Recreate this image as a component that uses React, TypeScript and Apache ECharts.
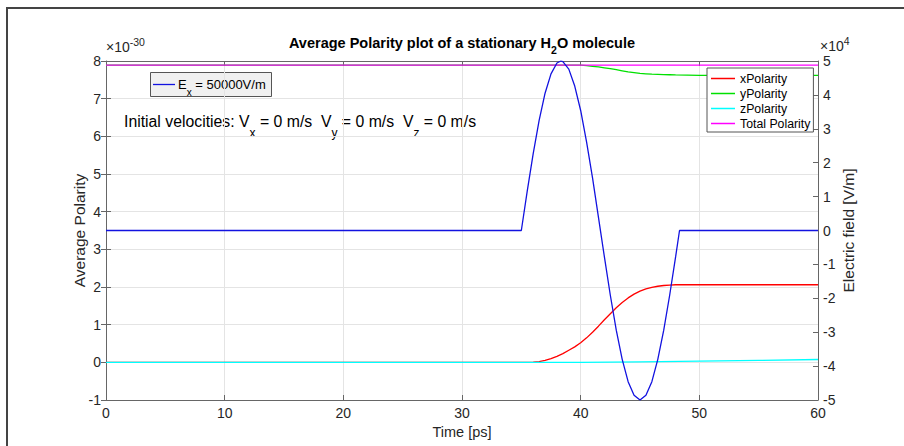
import React, { useEffect, useRef } from "react";
import * as echarts from "echarts";

const FONT = "'Liberation Sans', Arial, Helvetica, sans-serif";

// Axis ranges / ticks
const timeMin = 0;
const timeMax = 60;
const timeStep = 10;
const polMin = -1;
const polMax = 8;
const fieldMin = -5;
const fieldMax = 5;

// Series (time in ps; polarity in 1e-30 units; field in 1e4 V/m units)
const xPolTimes = [0, 35.5, 36, 36.5, 37, 37.5, 38, 38.5, 39, 39.5, 40, 40.5, 41, 41.5, 42, 42.5, 43, 43.5, 44, 44.5, 45, 45.5, 46, 46.5, 47, 47.5, 48, 60];
const xPolValues = [0, 0, 0.005, 0.02, 0.05, 0.1, 0.16, 0.23, 0.32, 0.41, 0.52, 0.65, 0.8, 0.96, 1.13, 1.29, 1.45, 1.59, 1.71, 1.81, 1.89, 1.95, 1.99, 2.02, 2.04, 2.05, 2.06, 2.06];

const yPolTimes = [0, 40, 40.5, 41, 41.5, 42, 42.5, 43, 43.5, 44, 44.5, 45, 45.5, 46, 46.5, 47, 47.5, 48, 50, 60];
const yPolValues = [7.89, 7.89, 7.875, 7.86, 7.845, 7.82, 7.795, 7.77, 7.74, 7.71, 7.69, 7.67, 7.66, 7.65, 7.645, 7.64, 7.635, 7.63, 7.62, 7.62];

const zPolTimes = [0, 40, 45, 50, 55, 60];
const zPolValues = [0, 0, 0.012, 0.03, 0.05, 0.075];

const totalTimes = [0, 60];
const totalValues = [7.89, 7.89];

const fieldTimes = [
  0, 35, 35.5, 36, 36.5, 37, 37.5, 38, 38.33, 38.5, 39, 39.5, 40, 40.5, 41, 41.5, 42, 42.5, 43, 43.5,
  44, 44.5, 45, 45.5, 46, 46.5, 47, 47.5, 48, 48.33, 60,
];
const fieldValues = [
  0, 0, 1.17, 2.27, 3.25, 4.05, 4.62, 4.94, 5.0, 4.98, 4.76, 4.26, 3.54, 2.61, 1.55, 0.39, -0.78, -1.91,
  -2.94, -3.8, -4.46, -4.86, -5.0, -4.86, -4.46, -3.8, -2.94, -1.91, -0.78, 0, 0,
];

const polarityNames = ["xPolarity", "yPolarity", "zPolarity", "Total Polarity"];
const fieldName = "Ex";

const pairs = (t: number[], v: number[]) => t.map((x, i) => [x, v[i]]);

const AXIS = "#666666";
const GRID = "#e4e4e4";
const TXT = "#262626";
const BLUE = "#1212e0";

function buildOption(): any {
  const lineSeries = (name: string, t: number[], v: number[], color: string, yAxisIndex: number) => ({
    name,
    type: "line",
    data: pairs(t, v),
    yAxisIndex,
    xAxisIndex: 0,
    symbol: "none",
    showSymbol: false,
    smooth: false,
    color,
    itemStyle: { color },
    lineStyle: { color, width: 1.3 },
  });

  const yBase = {
    type: "value",
    axisLine: { show: true, onZero: false, lineStyle: { color: AXIS, width: 1 } },
    axisTick: { show: true, inside: true, length: 5, lineStyle: { color: AXIS, width: 1 } },
    axisLabel: { color: TXT, fontSize: 14, fontFamily: FONT, margin: 5 },
  };

  return {
    animation: false,
    backgroundColor: "#ffffff",
    grid: { left: 106, top: 61, width: 712, height: 339, containLabel: false },
    xAxis: [
      {
        type: "value",
        min: timeMin,
        max: timeMax,
        interval: timeStep,
        position: "bottom",
        axisLine: { show: true, onZero: false, lineStyle: { color: AXIS, width: 1 } },
        axisTick: { show: true, inside: true, length: 5, lineStyle: { color: AXIS, width: 1 } },
        axisLabel: { color: TXT, fontSize: 14, fontFamily: FONT, margin: 6 },
        splitLine: { show: true, lineStyle: { color: GRID, width: 1 } },
        name: "Time [ps]",
        nameLocation: "middle",
        nameGap: 24,
        nameMoveOverlap: false,
        nameTextStyle: { color: TXT, fontSize: 14.5, fontFamily: FONT },
      },
      {
        type: "value",
        min: timeMin,
        max: timeMax,
        interval: timeStep,
        position: "top",
        axisLine: { show: true, onZero: false, lineStyle: { color: AXIS, width: 1 } },
        axisTick: { show: true, inside: true, length: 5, lineStyle: { color: AXIS, width: 1 } },
        axisLabel: { show: false },
        splitLine: { show: false },
      },
    ],
    yAxis: [
      {
        ...yBase,
        position: "left",
        min: polMin,
        max: polMax,
        interval: 1,
        splitLine: { show: true, lineStyle: { color: GRID, width: 1 } },
        name: "Average Polarity",
        nameLocation: "middle",
        nameGap: 19,
        nameMoveOverlap: false,
        nameTextStyle: { color: TXT, fontSize: 15.5, fontFamily: FONT },
      },
      {
        ...yBase,
        position: "right",
        min: fieldMin,
        max: fieldMax,
        interval: 1,
        splitLine: { show: false },
        name: "Electric field [V/m]",
        nameLocation: "middle",
        nameGap: 22,
        nameMoveOverlap: false,
        nameTextStyle: { color: TXT, fontSize: 15.5, fontFamily: FONT },
      },
      {
        type: "value",
        position: "right",
        min: polMin,
        max: polMax,
        interval: 1,
        axisLine: { show: false },
        axisTick: { show: true, inside: true, length: 5, lineStyle: { color: AXIS, width: 1 } },
        axisLabel: { show: false },
        splitLine: { show: false },
      },
    ],
    legend: [
      {
        data: polarityNames,
        orient: "vertical",
        left: 707,
        top: 68,
        icon: "rect",
        itemWidth: 24,
        itemHeight: 1.5,
        itemGap: 0,
        padding: [3, 3, 1, 4],
        backgroundColor: "#ffffff",
        borderColor: "#555555",
        borderWidth: 1,
        borderRadius: 0,
        selectedMode: false,
        textStyle: { color: "#000", fontSize: 12.3, fontFamily: FONT, lineHeight: 15 },
      },
    ],
    series: [
      lineSeries(polarityNames[0], xPolTimes, xPolValues, "#ff0000", 0),
      lineSeries(polarityNames[1], yPolTimes, yPolValues, "#00e000", 0),
      lineSeries(polarityNames[2], zPolTimes, zPolValues, "#00ffff", 0),
      lineSeries(polarityNames[3], totalTimes, totalValues, "#ff00ff", 0),
      lineSeries(fieldName, fieldTimes, fieldValues, BLUE, 1),
    ],
    graphic: [
      {
        type: "rect",
        shape: { x: 7, y: 8, width: 1200, height: 1200 },
        style: { fill: "none", stroke: "#444444", lineWidth: 2 },
        silent: true,
      },
      {
        type: "text",
        x: 462,
        y: 43,
        style: {
          text: "{b|Average Polarity plot of a stationary H}{bs|2}{b|O molecule}",
          align: "center",
          verticalAlign: "middle",
          rich: {
            b: { fontSize: 14.5, fontWeight: "bold", fontFamily: FONT, fill: "#000", lineHeight: 18 },
            bs: { fontSize: 10.5, fontWeight: "bold", fontFamily: FONT, fill: "#000", lineHeight: 18, padding: [13, 0, 0, 0] },
          },
        },
      },
      {
        type: "text",
        x: 106,
        y: 47,
        style: {
          text: "{a|×10}{p|-30}",
          align: "left",
          verticalAlign: "middle",
          rich: {
            a: { fontSize: 14, fontFamily: FONT, fill: TXT, lineHeight: 15 },
            p: { fontSize: 10.5, fontFamily: FONT, fill: TXT, lineHeight: 15, padding: [0, 0, 11, 0] },
          },
        },
      },
      {
        type: "text",
        x: 820,
        y: 46,
        style: {
          text: "{a|×10}{p|4}",
          align: "left",
          verticalAlign: "middle",
          rich: {
            a: { fontSize: 14, fontFamily: FONT, fill: TXT, lineHeight: 15 },
            p: { fontSize: 10.5, fontFamily: FONT, fill: TXT, lineHeight: 15, padding: [0, 0, 11, 0] },
          },
        },
      },
      // Field annotation box (E_x)
      {
        type: "rect",
        shape: { x: 150.5, y: 72.5, width: 121, height: 24 },
        style: { fill: "#f0f0f0", stroke: "#555555", lineWidth: 1 },
        silent: true,
      },
      {
        type: "line",
        shape: { x1: 153, y1: 84.5, x2: 175, y2: 84.5 },
        style: { stroke: BLUE, lineWidth: 1.3 },
        silent: true,
      },
      {
        type: "text",
        x: 178,
        y: 84,
        style: {
          text: "{a|E}{s|x}{a| = 50000V/m}",
          align: "left",
          verticalAlign: "middle",
          rich: {
            a: { fontSize: 13, fontFamily: FONT, fill: "#000", lineHeight: 15 },
            s: { fontSize: 10, fontFamily: FONT, fill: "#000", lineHeight: 15, padding: [16, 0, 0, 0] },
          },
        },
      },
      {
        type: "text",
        x: 124,
        y: 121,
        style: {
          text: "{a|Initial velocities: V}{s|x}{a| = 0 m/s  V}{s|y}{a| = 0 m/s  V}{s|z}{a| = 0 m/s}",
          align: "left",
          verticalAlign: "middle",
          rich: {
            a: { fontSize: 15.8, fontFamily: FONT, fill: "#000", lineHeight: 18 },
            s: { fontSize: 12, fontFamily: FONT, fill: "#000", lineHeight: 18, padding: [23, 0, 0, 0] },
          },
        },
      },
    ],
  };
}

export default function App() {
  const ref = useRef<HTMLDivElement>(null);
  useEffect(() => {
    if (!ref.current) return;
    const chart = echarts.init(ref.current, null, { renderer: "svg" });
    chart.setOption(buildOption());
    return () => chart.dispose();
  }, []);
  return (
    <div
      ref={ref}
      style={{ position: "fixed", left: 0, top: 0, width: 904, height: 446, background: "#ffffff" }}
    />
  );
}
